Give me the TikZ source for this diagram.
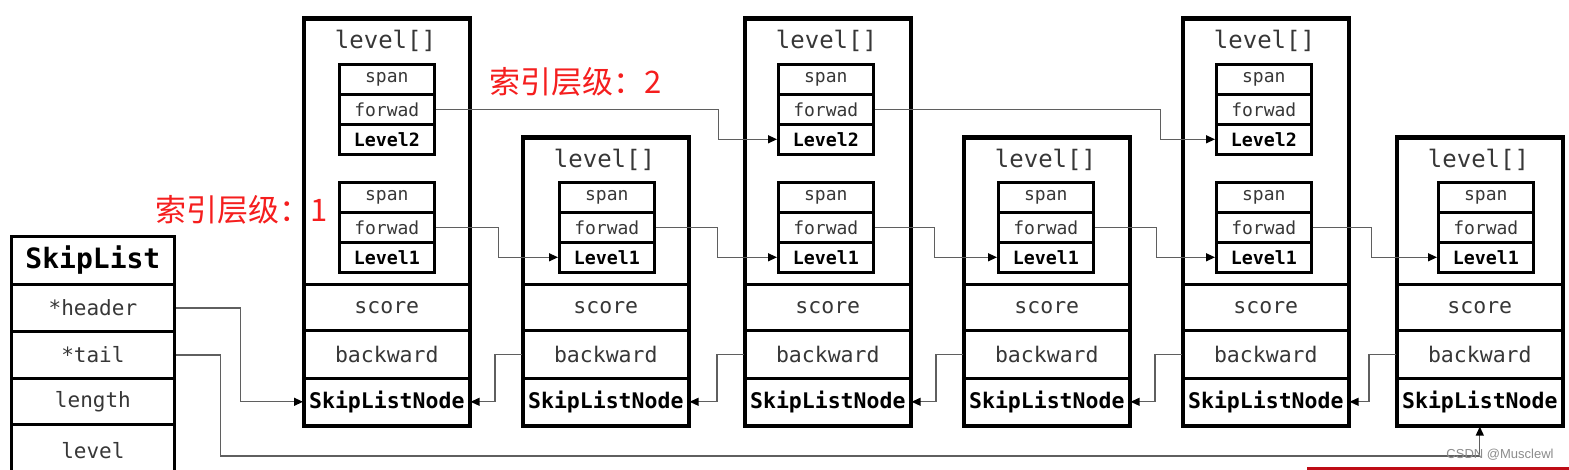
\documentclass[tikz,border=0pt]{standalone}
\usepackage{fontspec}
\setmonofont{DejaVu Sans Mono}
\newfontfamily\cjk{Noto Sans CJK SC}
\newfontfamily\wmfont{Liberation Sans}
\usetikzlibrary{arrows.meta}
\definecolor{lblred}{RGB}{245,30,30}
\definecolor{linegray}{RGB}{95,95,95}
\definecolor{txtgray}{RGB}{55,55,55}
\definecolor{barred}{RGB}{190,12,22}
\tikzset{
  row/.style={draw, line width=2.6pt, anchor=north west, inner sep=0pt, minimum width=165pt, text=txtgray, font=\ttfamily\fontsize{21.5}{24}\selectfont},
  slnrow/.style={row, text=black, font=\ttfamily\bfseries\fontsize{21.5}{24}\selectfont},
  lvbox/.style={draw, line width=2.6pt, anchor=north west, inner sep=0pt, minimum width=165pt},
  lvlabel/.style={inner sep=0pt, text=txtgray, font=\ttfamily\fontsize{24}{26}\selectfont},
  cell/.style={draw, line width=2.6pt, anchor=north west, inner sep=0pt, minimum width=95pt, minimum height=30pt, text=txtgray, font=\ttfamily\fontsize{18}{20}\selectfont},
  boldcell/.style={cell, text=black, font=\ttfamily\bfseries\fontsize{18.3}{20}\selectfont},
  outer/.style={draw, line width=3pt},
  slrow/.style={draw, line width=2.8pt, anchor=north west, inner sep=0pt, minimum width=163pt, text=txtgray, font=\ttfamily\fontsize{21}{24}\selectfont},
  conn/.style={draw=linegray, line width=1.3pt, -{Triangle[length=9pt,width=8pt,color=black]}},
  redlbl/.style={inner sep=0pt, text=lblred, font=\cjk\fontsize{31}{34}\selectfont},
}
% #1 name, #2 left x, #3 top y, #4 inner offset, #5 has level 2
\newcommand\slnode[5]{%
  \node[lvbox, minimum height={283-#3}] (#1lv) at (#2,#3) {};
  \node[lvlabel] (#1lvt) at (#2+82.5,#3+23) {level[]};
  \node[row, minimum height=46pt] (#1score) at (#2,283) {score};
  \node[row, minimum height=48pt] (#1back) at (#2,329) {backward};
  \node[slnrow, minimum height=47pt] (#1sln) at (#2,377) {SkipListNode};
  \node[cell] (#1s1) at (#2+#4,181) {span};
  \node[cell] (#1f1) at (#2+#4,211) {forwad};
  \node[boldcell] (#1L1) at (#2+#4,241) {Level1};
  \ifnum#5=1
    \node[cell] (#1s2) at (#2+#4,63) {span};
    \node[cell] (#1f2) at (#2+#4,93) {forwad};
    \node[boldcell] (#1L2) at (#2+#4,123) {Level2};
  \fi
  \draw[outer] (#1lv.north west) rectangle (#1sln.south east);
}
\begin{document}
\begin{tikzpicture}[x=1pt,y=-1pt]
\clip (0,0) rectangle (1569,470);
\fill[white] (0,0) rectangle (1569,470);

% SkipList structure
\node[slrow, minimum height=48pt, text=black, font=\ttfamily\bfseries\fontsize{28}{30}\selectfont] (sltitle) at (10,235) {SkipList};
\node[slrow, minimum height=47pt] (slh) at (10,283) {*header};
\node[slrow, minimum height=47pt] (slt) at (10,330) {*tail};
\node[slrow, minimum height=46pt] (sllen) at (10,377) {length};
\node[slrow, minimum height=52pt] (sllev) at (10,423) {level};

% skip list nodes
\slnode{n1}{303}{18}{35}{1}
\slnode{n2}{522}{137}{36}{0}
\slnode{n3}{744}{18}{33}{1}
\slnode{n4}{963}{137}{34}{0}
\slnode{n5}{1182}{18}{33}{1}
\slnode{n6}{1396}{137}{41}{0}

% header / tail pointers
\draw[conn] (slh.east) -- ++(65,0) |- (n1sln.west);
\draw[conn] (slt.east) -- ++(45,0) -- ++(0,101) -| (n6sln.south);

% level 2 forward pointers
\draw[conn] (n1f2.east) -- ++(283,0) |- (n3L2.west);
\draw[conn] (n3f2.east) -- ++(286,0) |- (n5L2.west);

% level 1 forward pointers
\draw[conn] (n1f1.east) -- ++(63,0) |- (n2L1.west);
\draw[conn] (n2f1.east) -- ++(62,0) |- (n3L1.west);
\draw[conn] (n3f1.east) -- ++(60,0) |- (n4L1.west);
\draw[conn] (n4f1.east) -- ++(62,0) |- (n5L1.west);
\draw[conn] (n5f1.east) -- ++(59,0) |- (n6L1.west);

% backward pointers
\draw[conn] (n2back.west) -- ++(-27,0) |- (n1sln.east);
\draw[conn] (n3back.west) -- ++(-27,0) |- (n2sln.east);
\draw[conn] (n4back.west) -- ++(-27,0) |- (n3sln.east);
\draw[conn] (n5back.west) -- ++(-27,0) |- (n4sln.east);
\draw[conn] (n6back.west) -- ++(-27,0) |- (n5sln.east);

% red annotations
\node[redlbl] (lbl2) at (576,82) {索引层级：2};
\node[redlbl] (lbl1) at (242,210) {索引层级：1};

% watermark and bar
\node[inner sep=0pt, text=black!45, font=\wmfont\fontsize{13}{14}\selectfont] (wm) at (1500,455) {CSDN @Musclewl};
\fill[barred] (1307,467) rectangle (1569,472);
\end{tikzpicture}
\end{document}
